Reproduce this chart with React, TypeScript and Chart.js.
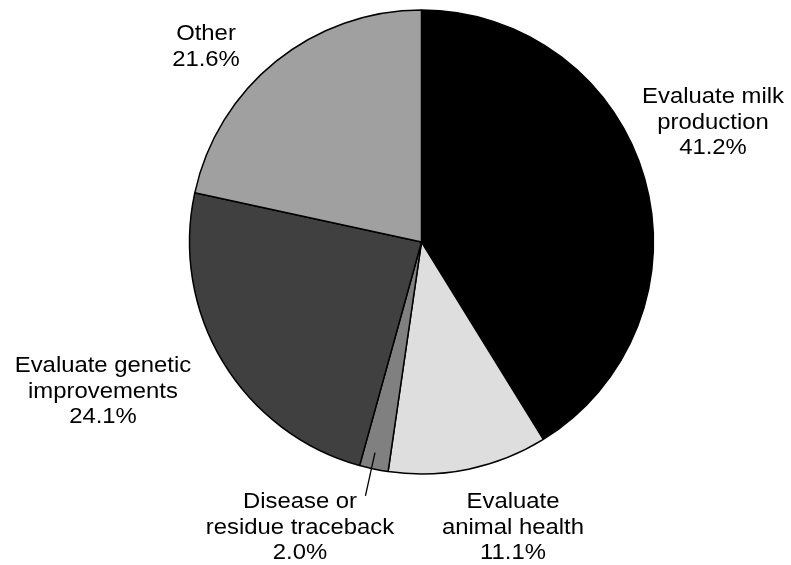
import React, { useEffect, useRef } from "react";
import { Chart, registerables } from "chart.js";

Chart.register(...registerables);

// ---- data ----
const categories = [
  "Evaluate milk production",
  "Evaluate animal health",
  "Disease or residue traceback",
  "Evaluate genetic improvements",
  "Other",
];
const labelLines = [
  ["Evaluate milk", "production"],
  ["Evaluate", "animal health"],
  ["Disease or", "residue traceback"],
  ["Evaluate genetic", "improvements"],
  ["Other"],
];
const values = [41.2, 11.1, 2.0, 24.1, 21.6];
const colors = ["#000000", "#dedede", "#808080", "#404040", "#a0a0a0"];

// label anchor: center x, first baseline (canvas px)
const labelAnchors = [
  [713, 103],
  [513, 508],
  [300, 508],
  [103, 372],
  [206, 40],
];
const leaderFor = [2];

const labelPlugin = {
  id: "outerLabels",
  afterDraw(chart: any) {
    const ctx = chart.ctx;
    const meta = chart.getDatasetMeta(0);
    ctx.save();
    ctx.fillStyle = "#000000";
    ctx.font = '21.5px "Liberation Sans", Arial, sans-serif';
    ctx.textAlign = "center";
    ctx.textBaseline = "alphabetic";
    const lh = 25.7;
    labelLines.forEach((lines, i) => {
      const [cx, by] = labelAnchors[i];
      const all = [...lines, values[i].toFixed(1) + "%"];
      all.forEach((t, k) => {
        ctx.save();
        ctx.translate(cx, by + k * lh);
        ctx.scale(1.11, 1);
        ctx.fillText(t, 0, 0);
        ctx.restore();
      });
    });
    // leader lines
    leaderFor.forEach((i) => {
      const arc = meta.data[i];
      const { x, y, startAngle, endAngle, outerRadius } = arc.getProps(
        ["x", "y", "startAngle", "endAngle", "outerRadius"],
        true
      );
      const mid = (startAngle + endAngle) / 2 + 0.01;
      const r1 = outerRadius * 0.93;
      const r2 = outerRadius + 28;
      ctx.beginPath();
      ctx.strokeStyle = "#000000";
      ctx.lineWidth = 1.3;
      ctx.moveTo(x + r1 * Math.cos(mid), y + r1 * Math.sin(mid));
      ctx.lineTo(x + r2 * Math.cos(mid), y + r2 * Math.sin(mid));
      ctx.stroke();
    });
    ctx.restore();
  },
};

export default function App() {
  const ref = useRef<HTMLCanvasElement | null>(null);
  useEffect(() => {
    if (!ref.current) return;
    const chart = new Chart(ref.current, {
      type: "pie",
      data: {
        labels: categories,
        datasets: [
          {
            data: values,
            backgroundColor: colors,
            borderColor: "#000000",
            borderWidth: 1.5,
          },
        ],
      },
      options: {
        responsive: false,
        animation: false,
        devicePixelRatio: 1,
        layout: {
          padding: { left: 188.75, right: 136.75, top: 9.25, bottom: 90.25 },
        },
        plugins: {
          legend: { display: false },
          tooltip: { enabled: false },
        },
      },
      plugins: [labelPlugin],
    });
    return () => chart.destroy();
  }, []);
  return (
    <div style={{ position: "absolute", left: 0, top: 0, width: 791, height: 565, background: "#ffffff" }}>
      <canvas ref={ref} width={791} height={565} style={{ width: 791, height: 565 }} />
    </div>
  );
}
